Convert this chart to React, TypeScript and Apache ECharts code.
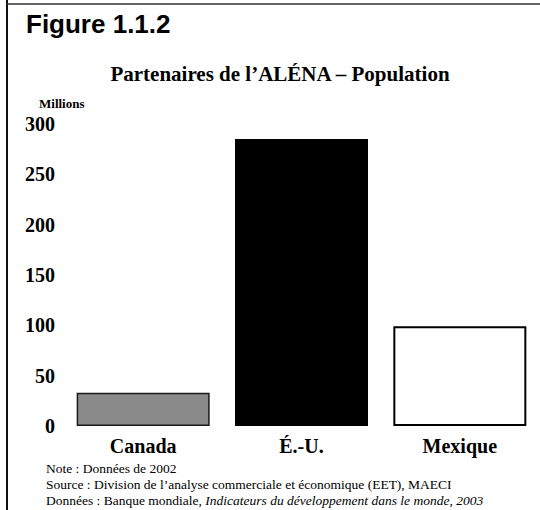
import React, { useEffect, useRef } from "react";
import * as echarts from "echarts";

const categories = ["Canada", "É.-U.", "Mexique"];
const population = [33, 285, 99];
const yTicks = { min: 0, max: 300, interval: 50 };

const figureLabel = "Figure 1.1.2";
const chartTitle = "Partenaires de l’ALÉNA – Population";
const unitLabel = "Millions";
const noteLine = "Note : Données de 2002";
const sourceLine = "Source : Division de l’analyse commerciale et économique (EET), MAECI";
const dataLinePlain = "Données : Banque mondiale, ";
const dataLineItalic = "Indicateurs du développement dans le monde, 2003";

const barStyles = [
  { color: "#8a8a8a", borderColor: "#1a1a1a", borderWidth: 1.5 },
  { color: "#000000", borderColor: "#000000", borderWidth: 0 },
  { color: "#ffffff", borderColor: "#000000", borderWidth: 2 },
];

const SERIF = "'Liberation Serif', 'Times New Roman', serif";
const SANS = "'Liberation Sans', Arial, sans-serif";

export default function App() {
  const ref = useRef<HTMLDivElement>(null);
  useEffect(() => {
    if (!ref.current) return;
    const chart = echarts.init(ref.current, undefined, { renderer: "svg" });
    chart.setOption({
      animation: false,
      backgroundColor: "#ffffff",
      grid: { left: 64, right: 1, top: 124, bottom: 84, containLabel: false },
      xAxis: {
        type: "category",
        data: categories,
        axisLine: { show: false },
        axisTick: { show: false },
        axisLabel: {
          margin: 10,
          fontFamily: SERIF,
          fontWeight: "bold",
          fontSize: 20,
          color: "#000",
        },
      },
      yAxis: {
        type: "value",
        min: yTicks.min,
        max: yTicks.max,
        interval: yTicks.interval,
        axisLine: { show: false },
        axisTick: { show: false },
        splitLine: { show: false },
        axisLabel: {
          margin: 9,
          fontFamily: SERIF,
          fontWeight: "bold",
          fontSize: 20,
          color: "#000",
        },
      },
      series: [
        {
          type: "bar",
          barWidth: 133,
          data: population.map((v, i) => ({ value: v, itemStyle: barStyles[i] })),
        },
      ],
      graphic: [
        { type: "line", shape: { x1: 7, y1: 0, x2: 7, y2: 510 }, style: { stroke: "#111", lineWidth: 2 } },
        { type: "line", shape: { x1: 7, y1: 4, x2: 540, y2: 4 }, style: { stroke: "#333", lineWidth: 1.5 } },
        {
          type: "text",
          x: 26,
          y: 24,
          style: { text: figureLabel, font: `bold 26px ${SANS}`, fill: "#000", textVerticalAlign: "middle" },
        },
        {
          type: "text",
          x: 280,
          y: 74,
          style: { text: chartTitle, font: `bold 21px ${SERIF}`, fill: "#000", textAlign: "center", textVerticalAlign: "middle" },
        },
        {
          type: "text",
          x: 39,
          y: 103,
          style: { text: unitLabel, font: `bold 13px ${SERIF}`, fill: "#000", textVerticalAlign: "middle" },
        },
        {
          type: "text",
          x: 46,
          y: 468,
          style: { text: noteLine, font: `13.5px ${SERIF}`, fill: "#000", textVerticalAlign: "middle" },
        },
        {
          type: "text",
          x: 46,
          y: 484,
          style: { text: sourceLine, font: `13.5px ${SERIF}`, fill: "#000", textVerticalAlign: "middle" },
        },
        {
          type: "text",
          x: 46,
          y: 500,
          style: {
            text: `{a|${dataLinePlain}}{b|${dataLineItalic}}`,
            font: `13.5px ${SERIF}`,
            fill: "#000",
            textVerticalAlign: "middle",
            rich: {
              a: { fontFamily: SERIF, fontSize: 13.5, color: "#000" },
              b: { fontFamily: SERIF, fontSize: 13.5, fontStyle: "italic", color: "#000" },
            },
          },
        },
      ],
    });
    return () => chart.dispose();
  }, []);
  return (
    <div
      ref={ref}
      style={{ position: "fixed", left: 0, top: 0, width: 540, height: 510 }}
    />
  );
}
